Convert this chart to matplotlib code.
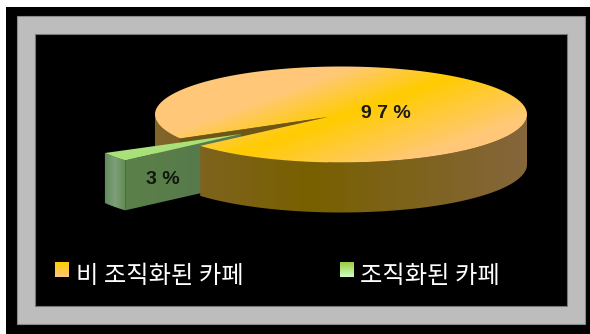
import numpy as np
import matplotlib
matplotlib.use("Agg")
import matplotlib.pyplot as plt
from matplotlib.patches import Polygon, Rectangle
from matplotlib.colors import LinearSegmentedColormap

plt.rcParams['font.family'] = ['Noto Sans CJK KR', 'DejaVu Sans']

categories = ["비 조직화된 카페", "조직화된 카페"]
shares = [97, 3]
share_labels = ["9 7 %", "3 %"]

W, H = 590, 334
fig = plt.figure(figsize=(W / 100, H / 100), dpi=100, facecolor="white")
ax = fig.add_axes([0, 0, 1, 1])
ax.set_xlim(0, W)
ax.set_ylim(H, 0)
ax.axis("off")

# Picture frame: black mat, grey band, black panel
ax.add_patch(Rectangle((6, 7), W - 6, H - 7, fc="black", ec="none", zorder=0))
ax.add_patch(Rectangle((17, 16), 568, 308, fc="#bdbdbd", ec="#8a8a8a", lw=0.8, zorder=1))
ax.add_patch(Rectangle((35, 34), 532, 272, fc="black", ec="#777777", lw=0.8, zorder=2))

# Pie geometry
cx, cy, rx, ry = 341, 114.5, 186, 48
apex = np.array([328, 117.0])
depth = 50
shift = np.array([-75, 14.5])
start = 210.0
end = start + shares[1] / sum(shares) * 360


def rim(a0, a1, n=120):
    t = np.radians(np.linspace(a0, a1, n))
    return np.column_stack([cx + rx * np.cos(t), cy - ry * np.sin(t)])


def extrude(edge):
    return np.vstack([edge, (edge + [0, depth])[::-1]])


XX, YY = np.meshgrid(np.linspace(0, W, W * 2), np.linspace(0, H, H * 2))


def paint(poly, field, stops, z):
    cmap = LinearSegmentedColormap.from_list("ramp", stops)
    img = ax.imshow(field, extent=(0, W, H, 0), cmap=cmap, vmin=0, vmax=1,
                    aspect="auto", zorder=z, interpolation="bilinear")
    patch = Polygon(poly, closed=True, transform=ax.transData, fc="none", ec="none")
    ax.add_patch(patch)
    img.set_clip_path(patch)


brown = ["#786000", "#84663a"]
yellow_peach = ["#ffcc00", "#ffc878"]

wall_field = np.clip(np.abs(XX - 310) / 210, 0, 1)

# Back-left stretch of the wall, beside the notch
paint(extrude(rim(180, start)), wall_field, brown, 3)
# Cut face seen through the notch
ax.add_patch(Polygon(extrude(np.vstack([apex, rim(start, start, 1)])),
                     fc="#6e5614", ec="none", zorder=4))

# Pulled-out slice
slice_arc = rim(start, end, 30) + shift
slice_tip = apex + shift + [-12, 2.5]
front_edge = np.vstack([slice_arc[-1], slice_tip])
paint(extrude(slice_arc), np.clip((XX - 104) / 22, 0, 1),
      ["#5f8a58", "#7f9f7a", "#5d8a4e"], 5)
paint(extrude(front_edge), np.clip((XX - 125) / 75, 0, 1),
      ["#5c8048", "#577a4c"], 5.5)
ax.add_patch(Polygon(np.vstack([slice_tip, slice_arc]),
                     fc="#a8e07a", ec="none", zorder=6))

# Front wall of the large slice, then its top face
paint(extrude(rim(end, 360)), wall_field, brown, 7)
top = np.vstack([apex, rim(end, start + 360, 400)])
d = (XX - 330) * 0.34 + (YY - 120) * 0.94
top_field = np.where(d < 0, np.clip(-d / 42, 0, 1), np.clip(d / 65, 0, 1))
paint(top, top_field, yellow_peach, 8)

# Value labels
label_font = ['Liberation Sans', 'DejaVu Sans']
ax.text(386, 114, share_labels[0], ha="center", va="center", fontsize=14,
        fontweight="bold", family=label_font, color="#1a1a10", zorder=10)
ax.text(163, 180, share_labels[1], ha="center", va="center", fontsize=14,
        fontweight="bold", family=label_font, color="#10180c", zorder=10)

# Legend
swatches = [(55, ["#ffcc00", "#ffc878"]), (340, ["#9acc40", "#ccffc0"])]
text_x = [76, 360]
for (sx, stops), tx, name in zip(swatches, text_x, categories):
    box = [(sx, 262), (sx + 14, 262), (sx + 14, 277), (sx, 277)]
    paint(box, np.clip((YY - 262) / 15, 0, 1), stops, 9)
    ax.text(tx, 276, name, ha="left", va="center", fontsize=17.5,
            color="white", zorder=10)

ax.set_xlim(0, W)
ax.set_ylim(H, 0)
fig.savefig("out.png", dpi=100, facecolor="white")
